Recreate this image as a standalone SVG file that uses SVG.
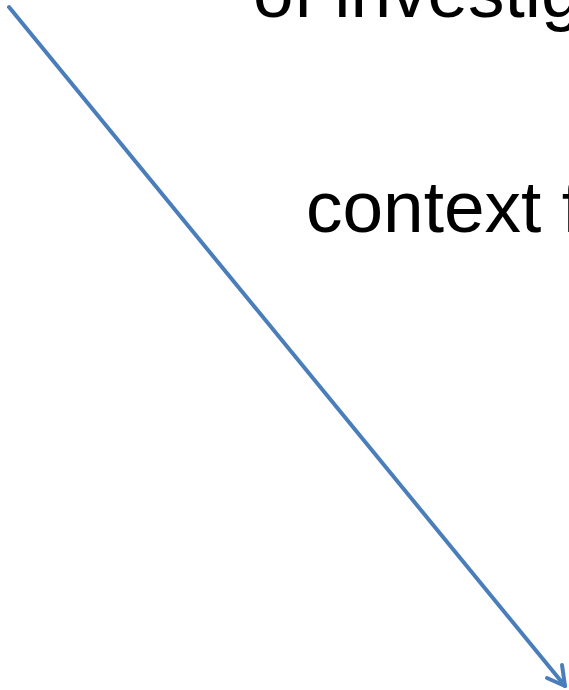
<svg xmlns="http://www.w3.org/2000/svg" width="569" height="690" viewBox="0 0 569 690">
<style>
.t{font-family:"Liberation Sans",Arial,sans-serif;font-size:73px;fill:#000}
.c{stroke:#4A7EBB;stroke-width:4;fill:none;stroke-linecap:round;stroke-linejoin:round}
</style>
<rect width="569" height="690" fill="#fff"/>
<g id="label-top"><text class="t" x="253" y="17">of investig</text></g>
<g id="label-context"><text class="t" x="306" y="232">context f</text></g>
<g id="connectors">
<line class="c" x1="9" y1="7" x2="565" y2="686"/>
<polyline class="c" points="547,678 565,686 562,665"/>
</g>
</svg>
